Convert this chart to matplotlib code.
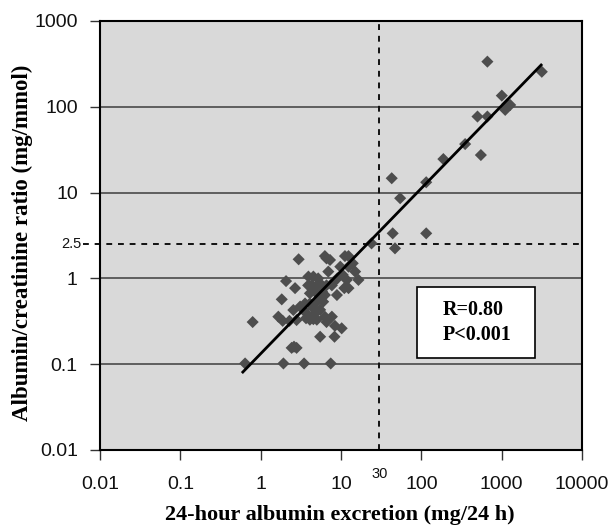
import matplotlib
matplotlib.use('Agg')
import matplotlib.pyplot as plt
from matplotlib.patches import Rectangle
import matplotlib.transforms as mtransforms

# ---- data ----
excretion = [664, 3160, 1004, 1107, 1277, 1180, 500, 664, 351, 551, 188, 115,
             42.8, 54.5, 44, 115, 47, 24,
             0.64, 1.92, 3.47, 7.45, 2.43, 2.8, 2.6, 5.5, 8.3, 0.795, 10.2, 8.4,
             6.6, 1.66, 1.88, 2.28, 2.8, 3.67, 4.53, 2.55, 1.83, 2.07, 2.68, 2.97,
             6.6, 7.3, 11.2, 12.4, 6.95, 9.8, 12.4, 15, 16.5, 11.8, 12.4, 8.9,
             3.93, 4.53, 5.2, 3.9, 4.3, 5.0, 5.8, 6.6, 7.7,
             4.1, 4.75, 5.5, 6.3, 5.0, 6.0, 4.1, 4.53, 3.57, 3.1, 3.4, 3.75, 4.75,
             5.5, 6.3, 7.7, 4.1, 5.0, 11, 6.3, 10.5, 14, 8.0, 9.0, 5.8]
ratio = [336, 256, 135, 92, 105, 108, 77, 77, 36.8, 27.4, 24.6, 13.2,
         14.7, 8.6, 3.35, 3.35, 2.24, 2.56,
         0.102, 0.102, 0.102, 0.102, 0.155, 0.155, 0.16, 0.209, 0.209, 0.31, 0.262, 0.28,
         0.31, 0.358, 0.32, 0.32, 0.327, 0.343, 0.335, 0.428, 0.57, 0.93, 0.77, 1.67,
         1.71, 1.64, 1.82, 1.82, 1.2, 1.37, 1.37, 1.2, 0.96, 0.96, 0.77, 0.64,
         1.05, 1.05, 1.0, 0.83, 0.83, 0.83, 0.83, 0.83, 0.83,
         0.67, 0.70, 0.61, 0.64, 0.535, 0.535, 0.51, 0.45, 0.51, 0.47, 0.43, 0.39, 0.39,
         0.43, 0.358, 0.358, 0.33, 0.33, 0.77, 1.82, 1.1, 1.5, 0.9, 1.0, 0.7]

fit_x = [0.60, 3100]
fit_y = [0.081, 307]

x_ticks = [0.01, 0.1, 1, 10, 100, 1000, 10000]
x_tick_labels = ['0.01', '0.1', '1', '10', '100', '1000', '10000']
y_ticks = [0.01, 0.1, 1, 10, 100, 1000]
y_tick_labels = ['0.01', '0.1', '1', '10', '100', '1000']
grid_y = [0.1, 1, 10, 100]
cut_x = 30
cut_y = 2.5
cut_x_label = '30'
cut_y_label = '2.5'
stats_lines = ['R=0.80', 'P<0.001']
x_title = '24-hour albumin excretion (mg/24 h)'
y_title = 'Albumin/creatinine ratio (mg/mmol)'

W, H = 611, 528
fig = plt.figure(figsize=(W / 100, H / 100), dpi=100)
ax = fig.add_axes([100 / W, 78 / H, 482 / W, 429 / H])
ax.set_facecolor('#d9d9d9')
ax.set_xscale('log')
ax.set_yscale('log')
ax.set_xlim(x_ticks[0], x_ticks[-1])
ax.set_ylim(y_ticks[0], y_ticks[-1])

for g in grid_y:
    ax.axhline(g, color='#555555', lw=1.3, zorder=1)

# reference lines
ax.plot([cut_x, cut_x], [y_ticks[0], y_ticks[-1]], color='#111111', lw=1.4,
        ls=(0, (3, 3)), zorder=2, clip_on=False)
trans_h = mtransforms.blended_transform_factory(ax.transAxes, ax.transData)
ax.plot([-0.035, 1], [cut_y, cut_y], color='#111111', lw=1.4, ls=(0, (3, 3)),
        transform=trans_h, zorder=2, clip_on=False)

ax.scatter(excretion, ratio, marker='D', s=38, color='#4d4d4d', edgecolors='none',
           zorder=3)
ax.plot(fit_x, fit_y, color='black', lw=2.0, zorder=4)

ax.set_xticks(x_ticks)
ax.set_xticklabels(x_tick_labels)
ax.set_yticks(y_ticks)
ax.set_yticklabels(y_tick_labels)
ax.minorticks_off()
ax.tick_params(axis='both', direction='out', length=7, width=1.0, color='#333333',
               labelsize=14, labelcolor='#111111')
ax.tick_params(axis='x', pad=12)
ax.tick_params(axis='y', pad=9)
for lab in ax.get_xticklabels() + ax.get_yticklabels():
    lab.set_fontfamily('Liberation Sans')

for sp in ax.spines.values():
    sp.set_color('black')
    sp.set_linewidth(1.5)

trans_v = mtransforms.blended_transform_factory(ax.transData, ax.transAxes)
ax.text(cut_x, -0.04, cut_x_label, transform=trans_v, ha='center', va='top',
        fontsize=10.5, family='Liberation Sans', color='#111111')
ax.text(-0.038, cut_y, cut_y_label, transform=trans_h, ha='right', va='center',
        fontsize=10.5, family='Liberation Sans', color='#111111')

# stats box
box = Rectangle((0.658, 0.215), 0.245, 0.165, transform=ax.transAxes,
                facecolor='white', edgecolor='black', lw=1.2, zorder=5)
ax.add_patch(box)
ax.text(0.711, 0.326, stats_lines[0], transform=ax.transAxes, ha='left', va='center',
        fontsize=14.5, fontweight='bold', family='Liberation Serif', zorder=6)
ax.text(0.711, 0.268, stats_lines[1], transform=ax.transAxes, ha='left', va='center',
        fontsize=14.5, fontweight='bold', family='Liberation Serif', zorder=6)

fig.text(340 / W, 1 - 515 / H, x_title, ha='center', va='center', fontsize=16,
         fontweight='bold', family='Liberation Serif')
fig.text(22 / W, 1 - 243 / H, y_title, ha='center', va='center', rotation=90,
         fontsize=16.5, fontweight='bold', family='Liberation Serif')

fig.savefig('out.png', dpi=100)
